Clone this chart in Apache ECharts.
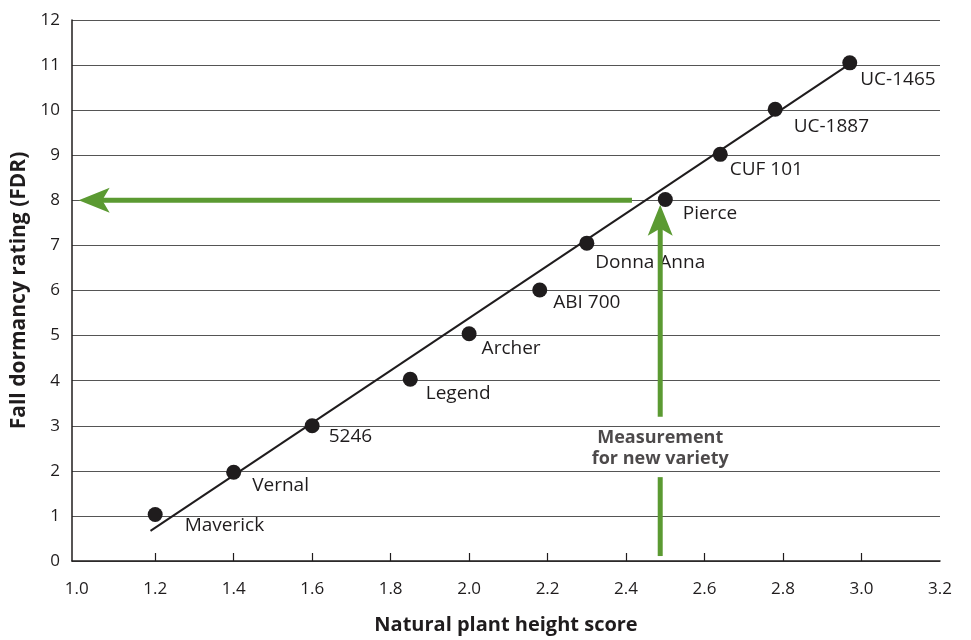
<!DOCTYPE html>
<html>
<head>
<meta charset="utf-8">
<script src="https://cdn.jsdelivr.net/npm/echarts@6/dist/echarts.min.js"></script>
<style>html,body{margin:0;padding:0;background:#fff}#c{width:971px;height:640px}</style>
</head>
<body>
<div id="c"></div>
<script>
// ---- data ----
const varieties = ['Maverick','Vernal','5246','Legend','Archer','ABI 700','Donna Anna','Pierce','CUF 101','UC-1887','UC-1465'];
const heightScore = [1.2, 1.4, 1.6, 1.85, 2.0, 2.18, 2.3, 2.5, 2.64, 2.78, 2.97];
const fdr = [1.03, 1.97, 3.0, 4.03, 5.04, 6.01, 7.05, 8.02, 9.02, 10.02, 11.05];
const fitX = [1.188, 2.978];
const fitY = [0.67, 11.07];
// arrows: [x1, y1, x2, y2, hasHead]
const arrowSegments = [
  [2.415, 8, 1.005, 8, 1],
  [2.487, 0.11, 2.487, 1.86, 0],
  [2.487, 3.2, 2.487, 7.9, 1]
];
const xTicks = [1.0, 1.2, 1.4, 1.6, 1.8, 2.0, 2.2, 2.4, 2.6, 2.8, 3.0, 3.2];
const noteText = 'Measurement\nfor new variety';
const notePos = [2.487, 2.5];

// ---- styles ----
const labelOffsets = [[17,11],[6,13],[4,11],[3,14],[0,15],[1,13],[-4,19],[5,14],[-3,15],[6,17],[-2,17]];
const green = '#5b9a32';
const ink = '#1f1c1d';
const font = '"Open Sans", sans-serif';

const chart = echarts.init(document.getElementById('c'), null, {renderer: 'canvas'});
chart.setOption({
  animation: false,
  backgroundColor: '#fff',
  grid: {left: 72, right: 31, top: 20, bottom: 78, containLabel: false},
  xAxis: {
    type: 'value', min: 0.988, max: 3.2,
    name: 'Natural plant height score', nameLocation: 'middle', nameGap: 54,
    nameTextStyle: {fontFamily: font, fontWeight: 'bold', fontSize: 20, color: ink},
    axisLine: {show: true, lineStyle: {color: ink, width: 1.5}},
    axisTick: {show: true, inside: true, length: 8, lineStyle: {color: ink, width: 1.2},
      customValues: xTicks.slice(1, xTicks.length - 1)},
    axisLabel: {customValues: xTicks, margin: 20, fontFamily: font, fontSize: 17, color: ink,
      formatter: v => v.toFixed(1)},
    splitLine: {show: false}
  },
  yAxis: {
    type: 'value', min: 0, max: 12, interval: 1,
    name: 'Fall dormancy rating (FDR)', nameLocation: 'middle', nameGap: 42,
    nameTextStyle: {fontFamily: font, fontWeight: 'bold', fontSize: 21, color: ink},
    axisLine: {show: true, lineStyle: {color: ink, width: 1.5}},
    axisTick: {show: false},
    axisLabel: {margin: 12, fontFamily: font, fontSize: 17, color: ink},
    splitLine: {show: true, lineStyle: {color: '#555', width: 1.2}}
  },
  series: [
    {
      type: 'line', data: fitX.map((x, i) => [x, fitY[i]]),
      showSymbol: false, symbol: 'none',
      lineStyle: {color: ink, width: 2}, z: 3, silent: true
    },
    {
      type: 'scatter', symbol: 'circle', symbolSize: 15,
      itemStyle: {color: ink, opacity: 1},
      data: heightScore.map((x, i) => ({
        value: [x, fdr[i]], name: varieties[i],
        label: {offset: labelOffsets[i]}
      })),
      label: {show: true, position: 'right', distance: 5, formatter: p => p.name,
        fontFamily: font, fontSize: 19, color: ink},
      z: 4
    },
    {
      type: 'custom', clip: false, z: 5,
      data: arrowSegments,
      renderItem: function (params, api) {
        const p1 = api.coord([api.value(0), api.value(1)]);
        const p2 = api.coord([api.value(2), api.value(3)]);
        const head = api.value(4);
        const dx = p2[0] - p1[0], dy = p2[1] - p1[1];
        const len = Math.hypot(dx, dy);
        const ux = dx / len, uy = dy / len;
        const L = 31, W = 12.5;
        const end = head ? [p2[0] - ux * L * 0.7, p2[1] - uy * L * 0.7] : p2;
        const children = [{
          type: 'line',
          shape: {x1: p1[0], y1: p1[1], x2: end[0], y2: end[1]},
          style: {stroke: green, lineWidth: 5}
        }];
        if (head) {
          const bx = p2[0] - ux * L, by = p2[1] - uy * L;
          const nx = p2[0] - ux * L * 0.76, ny = p2[1] - uy * L * 0.76;
          const px = -uy, py = ux;
          children.push({
            type: 'polygon',
            shape: {points: [[p2[0], p2[1]], [bx + px * W, by + py * W], [nx, ny], [bx - px * W, by - py * W]]},
            style: {fill: green}
          });
        }
        return {type: 'group', children: children};
      }
    },
    {
      type: 'scatter', symbolSize: 0, z: 6, silent: true,
      data: [notePos],
      label: {show: true, position: 'inside', formatter: noteText,
        fontFamily: font, fontWeight: 'bold', fontSize: 18, lineHeight: 21, color: ink,
        align: 'center'}
    }
  ]
});
</script>
</body>
</html>
